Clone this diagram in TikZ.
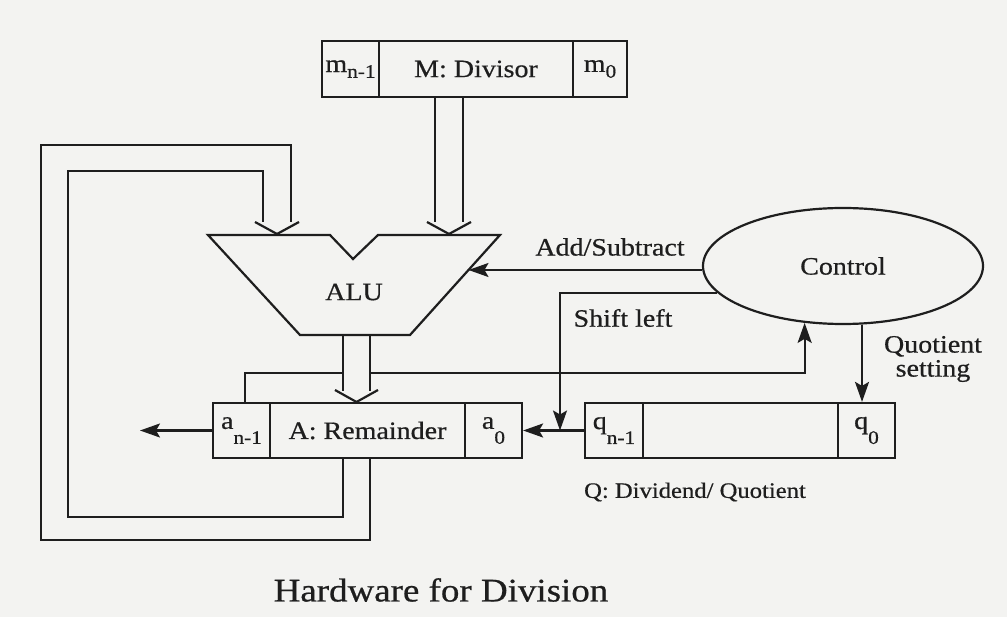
\documentclass[tikz,border=0pt]{standalone}
\usepackage{fontspec}
\setmainfont{Liberation Serif}[FakeStretch=1.12,FakeBold=0.6]
\usetikzlibrary{shapes.geometric,arrows.meta}
\definecolor{paper}{RGB}{243,243,241}
\definecolor{ink}{RGB}{30,30,30}
\newcommand\lbl{\fontsize{25}{29}\selectfont}
\newcommand\subs[1]{\raisebox{-0.5ex}{\fontsize{19}{19}\selectfont #1}}
\newcommand\subd[1]{\raisebox{-1.3ex}{\fontsize{19}{19}\selectfont #1}}
\begin{document}
\begin{tikzpicture}[x=1pt,y=-1pt,line width=2.2pt,color=ink,
  cell/.style={draw,rectangle,inner sep=0pt,minimum height=55pt,font=\lbl},
  arr/.style={-{Stealth[length=20pt,width=14pt,inset=4pt]}},
  lab/.style={font=\lbl,inner sep=1pt}]
\useasboundingbox (0,0) rectangle (1007,617);
\fill[paper] (0,0) rectangle (1007,617);

% M register
\node[cell,minimum width=57pt,minimum height=56pt] (m1) at (350.5,69) {m\subs{n-1}};
\node[cell,minimum width=194pt,minimum height=56pt] (mm) at (476,69) {M: Divisor};
\node[cell,minimum width=54pt,minimum height=56pt] (m0) at (600,69) {m\subs{0}};

% A register
\node[cell,minimum width=57pt] (a1) at (241.5,430.5) {a\subd{n-1}};
\node[cell,minimum width=195pt] (am) at (367.5,430.5) {A: Remainder};
\node[cell,minimum width=57pt] (a0) at (493.5,430.5) {a\subd{0}};

% Q register
\node[cell,minimum width=58pt] (q1) at (614,430.5) {q\subd{n-1}};
\node[cell,minimum width=195pt] (qm) at (740.5,430.5) {};
\node[cell,minimum width=57pt] (q0) at (866.5,430.5) {q\subd{0}};
\node[font=\fontsize{22}{26}\selectfont] (qlab) at (695,492) {Q: Dividend/ Quotient};

% ALU
\draw[line join=miter] (208,235) -- (330,235) -- (353,259) -- (378,235) -- (500,235)
   -- (410,335) -- (300,335) -- cycle;
\node[lab] (alu) at (354,292) {ALU};
\coordinate (aluR) at (468.5,270);

% Control
\node[draw,ellipse,minimum width=280pt,minimum height=116pt,font=\lbl] (ctrl) at (843,266) {Control};

% Add/Subtract
\draw[arr] (ctrl.west |- aluR) -- (aluR);
\node[lab] (addsub) at (610,247) {Add/Subtract};

% Shift left
\coordinate (sl) at (560,430.5);
\draw (q1.west) -- (sl);
\draw[arr] (sl) -- (a0.east);
\draw[arr] (ctrl.192) -| (sl);
\node[lab] (shl) at (623,318) {Shift left};

% Quotient setting
\draw[arr] (ctrl.288) -- (ctrl.288 |- q0.north);
\node[lab,align=center] (qs) at (933,359) {Quotient\\[-5pt]setting};

% A top to control
\coordinate (aT) at (245,403);
\coordinate (gapL) at (343,373);
\coordinate (gapR) at (370,373);
\draw (aT) |- (gapL);
\draw[arr] (gapR) -| (ctrl.236);

% out of a_{n-1}
\coordinate (outL) at (140,430.5);
\draw[arr] (a1.west) -- (outL);

% M bus to ALU
\draw (435,97) -- (435,222) (463,97) -- (463,222);
\draw (427,222) -- (449,234) -- (471,222);

% ALU bus to A
\draw (343,335) -- (343,391) (370,335) -- (370,391);
\draw (335,390) -- (356.5,402) -- (378,390);

% feedback loop A -> ALU
\draw (343,458) -- (343,517) -- (68,517) -- (68,171) -- (263,171) -- (263,222);
\draw (370,458) -- (370,540) -- (41,540) -- (41,145) -- (291,145) -- (291,222);
\draw (255,222) -- (277,234) -- (299,222);

% title
\node[font=\fontsize{33}{38}\selectfont] (title) at (441,590) {Hardware for Division};
\end{tikzpicture}
\end{document}
